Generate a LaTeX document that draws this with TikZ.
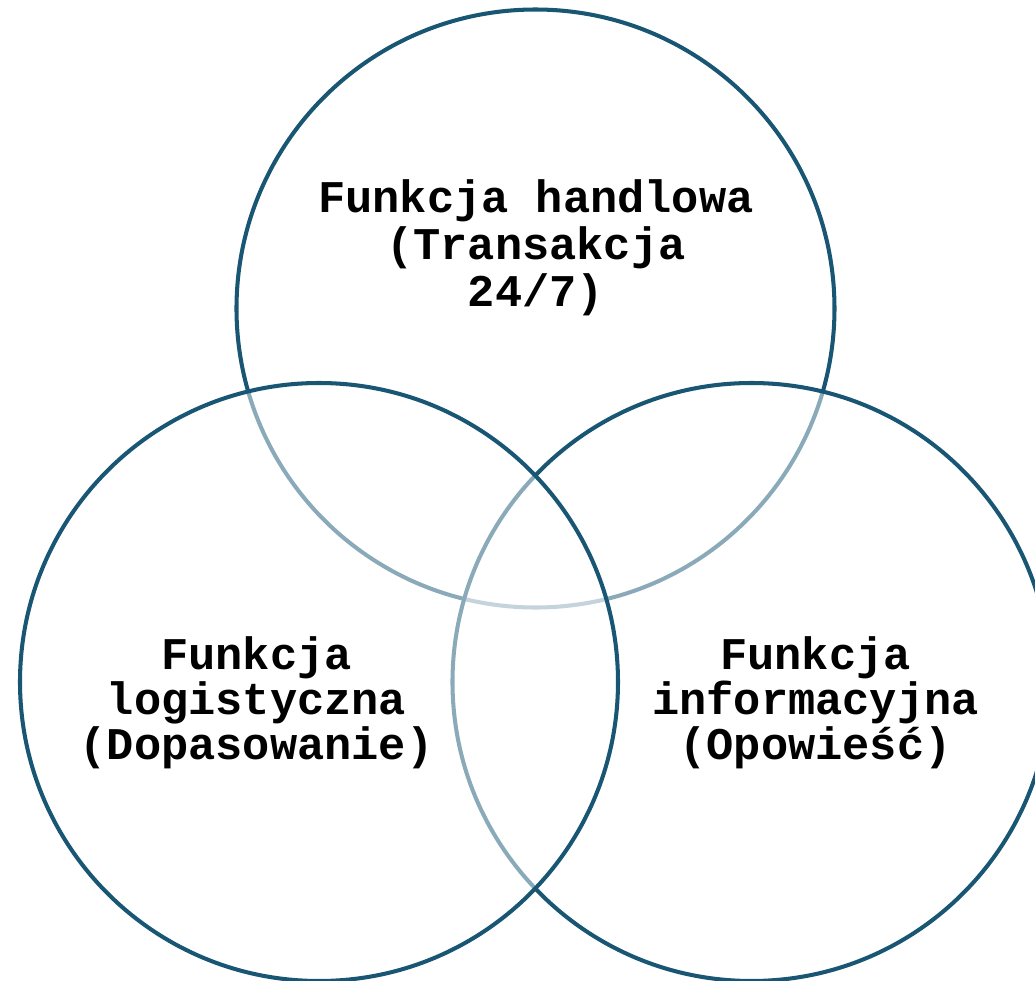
\documentclass[tikz,border=0pt]{standalone}
\usepackage{fontspec}
\setmonofont{Liberation Mono}
\usetikzlibrary{positioning}

\definecolor{ringblue}{RGB}{24,86,116}

\begin{document}
\begin{tikzpicture}[
  ring/.style={draw=ringblue,line width=1.15pt,circle,inner sep=0pt,
    minimum size=5.98cm,fill=white,fill opacity=0.5},
  caption/.style={align=center,font=\ttfamily\bfseries\fontsize{12.9}{13.4}\selectfont},
  sidecaption/.style={caption,font=\ttfamily\bfseries\fontsize{12.9}{12.8}\selectfont}
]
  \useasboundingbox (0,0) rectangle (10.35,-9.81);

  \node[ring] (trade) at (5.355,-3.085) {};
  \node[ring] (info) at (7.515,-6.82) {};
  \node[ring] (logis) at (3.19,-6.82) {};

  \node[caption] (tradetxt) at (5.36,-2.48) {Funkcja handlowa\\(Transakcja\\24/7)};
  \node[sidecaption] (logistxt) at (2.565,-7.03) {Funkcja\\logistyczna\\(Dopasowanie)};
  \node[sidecaption] (infotxt) at (8.155,-7.03) {Funkcja\\informacyjna\\(Opowieść)};
\end{tikzpicture}
\end{document}
